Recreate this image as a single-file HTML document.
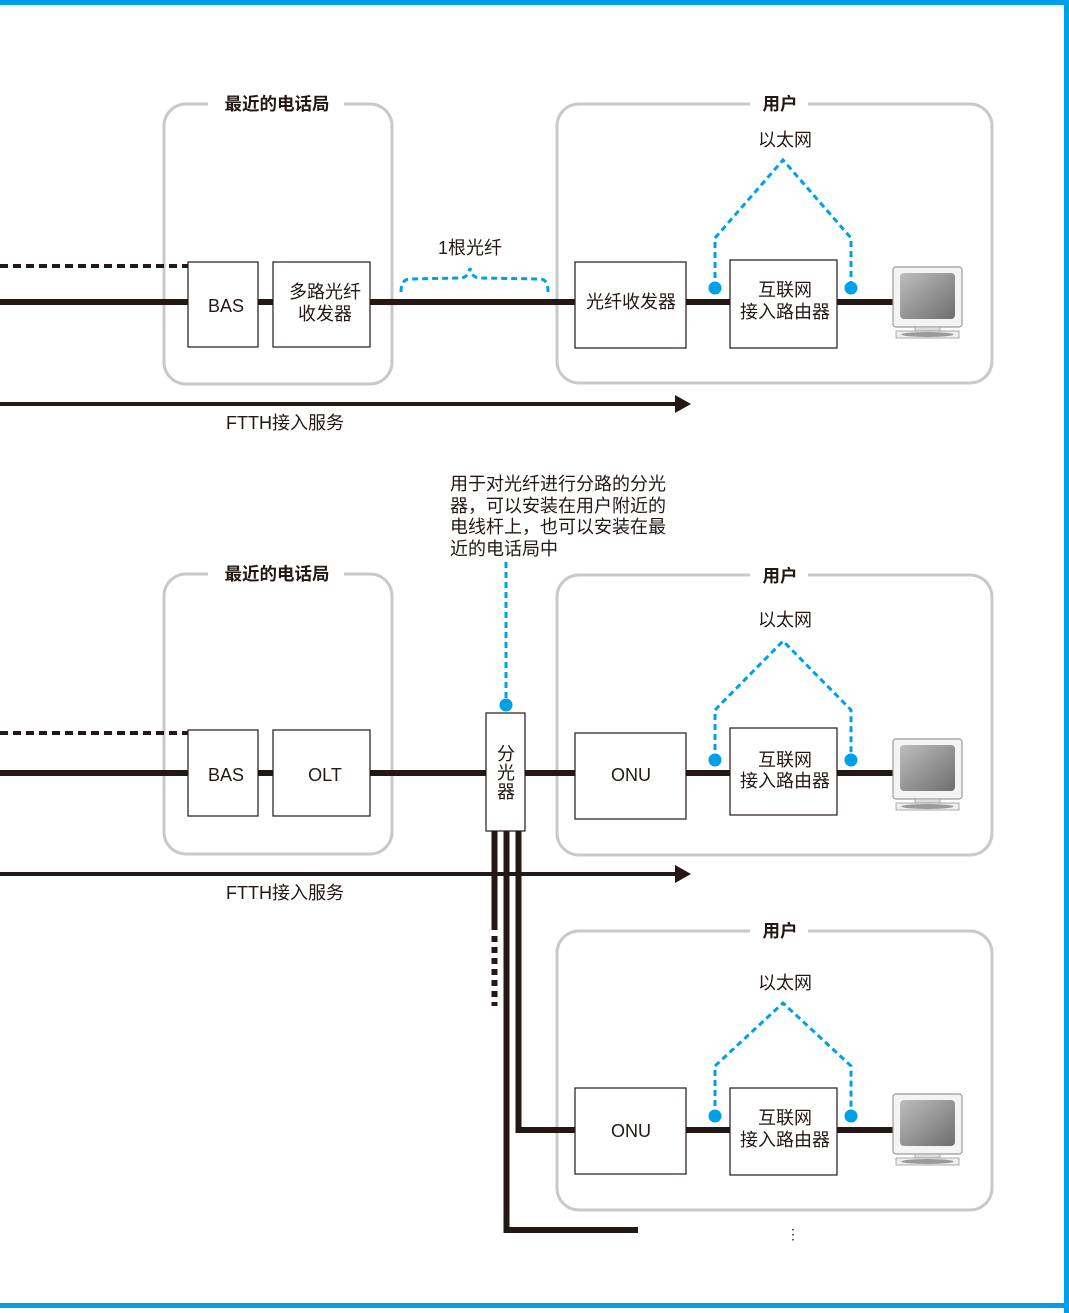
<!DOCTYPE html>
<html><head><meta charset="utf-8"><style>
html,body{margin:0;padding:0;background:#fff}
svg{display:block}
text{font-family:"Liberation Sans","Noto Sans CJK SC",sans-serif;fill:#231815}
</style></head><body>
<svg width="1069" height="1313" viewBox="0 0 1069 1313" xmlns="http://www.w3.org/2000/svg">
<defs>
<linearGradient id="scr" x1="0" y1="0" x2="1" y2="1"><stop offset="0" stop-color="#bdbdbd"/><stop offset="1" stop-color="#6e6e6e"/></linearGradient>
<g id="mon">
<rect x="0" y="0" width="69" height="60" rx="3" fill="#f4f4f4" stroke="#9a9a9a" stroke-width="1.2"/>
<rect x="7" y="6" width="55" height="46" rx="4" fill="url(#scr)"/>
<rect x="22" y="60" width="25" height="4" fill="#ddd" stroke="#999" stroke-width="0.8"/>
<rect x="3" y="64" width="63" height="7" fill="#eee" stroke="#999" stroke-width="0.8"/>
<ellipse cx="34.5" cy="67.5" rx="26" ry="2.5" fill="#9a9a9a"/>
</g>
</defs>
<rect x="0" y="0" width="1069" height="5" fill="#00a0e9"/>
<rect x="1064" y="0" width="5" height="1313" fill="#00a0e9"/>
<rect x="0" y="1303" width="1069" height="5" fill="#00a0e9"/>

<g fill="none" stroke="#c9c9c9" stroke-width="3">
<rect x="164" y="104" width="228" height="280" rx="22"/>
<rect x="557" y="104" width="435" height="279" rx="22"/>
<rect x="164" y="574" width="228" height="280" rx="22"/>
<rect x="557" y="575" width="435" height="280" rx="22"/>
<rect x="557" y="931" width="435" height="279" rx="22"/>
</g>
<g fill="#fff">
<rect x="208" y="94" width="136" height="20"/>
<rect x="750" y="94" width="58" height="20"/>
<rect x="208" y="564" width="136" height="20"/>
<rect x="750" y="565" width="58" height="20"/>
<rect x="750" y="921" width="58" height="20"/>
</g>
<g font-size="17.5" font-weight="bold" text-anchor="middle">
<text x="277" y="110">最近的电话局</text>
<text x="780" y="110">用户</text>
<text x="277" y="580">最近的电话局</text>
<text x="780" y="582">用户</text>
<text x="780" y="937">用户</text>
</g>

<line x1="0" y1="266" x2="188" y2="266" stroke="#231815" stroke-width="4" stroke-dasharray="8,5"/>
<line x1="0" y1="302" x2="893" y2="302" stroke="#231815" stroke-width="6"/>
<line x1="0" y1="404" x2="678" y2="404" stroke="#231815" stroke-width="4"/>
<polygon points="675,395 691,404 675,413" fill="#231815"/>
<path d="M401,292 Q401,279 410,279 L460,278 Q468,278 470,268 Q472,278 480,278 L540,279 Q548,279 548,292" fill="none" stroke="#00a0e9" stroke-width="3" stroke-dasharray="6,4"/>

<g fill="#fff" stroke="#231815" stroke-width="1.2">
<rect x="188" y="262" width="70" height="85"/>
<rect x="273" y="262" width="97" height="85"/>
<rect x="575" y="262" width="111" height="86"/>
<rect x="730" y="260" width="107" height="88"/>
</g>
<g fill="none" stroke="#00a0e9" stroke-width="3" stroke-dasharray="6,4">
<path d="M715,288 V238 L783,160 L851,238 V288"/>
<path d="M715,760 V710 L783,641 L851,710 V760"/>
<path d="M715,1116 V1066 L783,1003 L851,1066 V1116"/>
</g>
<g fill="#00a0e9">
<circle cx="715" cy="288" r="6.5"/><circle cx="851" cy="288" r="6.5"/>
<circle cx="715" cy="760" r="6.5"/><circle cx="851" cy="760" r="6.5"/>
<circle cx="715" cy="1116" r="6.5"/><circle cx="851" cy="1116" r="6.5"/>
</g>
<use href="#mon" x="893" y="267"/>

<g font-size="18" text-anchor="middle">
<text x="226" y="312">BAS</text>
<text x="325" y="298">多路光纤</text>
<text x="325" y="320">收发器</text>
<text x="631" y="308">光纤收发器</text>
<text x="785" y="296">互联网</text>
<text x="785" y="318">接入路由器</text>
<text x="785" y="146">以太网</text>
<text x="470" y="254">1根光纤</text>
<text x="285" y="429">FTTH接入服务</text>
</g>

<line x1="0" y1="733" x2="188" y2="733" stroke="#231815" stroke-width="4" stroke-dasharray="8,5"/>
<line x1="0" y1="773" x2="893" y2="773" stroke="#231815" stroke-width="6"/>
<line x1="0" y1="874" x2="678" y2="874" stroke="#231815" stroke-width="4"/>
<polygon points="675,865 691,874 675,883" fill="#231815"/>
<line x1="506" y1="562" x2="506" y2="700" stroke="#00a0e9" stroke-width="3" stroke-dasharray="6,4"/>
<circle cx="506" cy="705" r="6.5" fill="#00a0e9"/>

<line x1="494.5" y1="830" x2="494.5" y2="930" stroke="#231815" stroke-width="6"/>
<line x1="494.5" y1="936" x2="494.5" y2="1006" stroke="#231815" stroke-width="6" stroke-dasharray="6,5"/>
<path d="M506.5,830 V1230 H638" fill="none" stroke="#231815" stroke-width="6"/>
<path d="M518.5,830 V1130 H893" fill="none" stroke="#231815" stroke-width="6"/>

<g fill="#fff" stroke="#231815" stroke-width="1.2">
<rect x="188" y="730" width="70" height="86"/>
<rect x="273" y="730" width="97" height="86"/>
<rect x="486" y="713" width="39" height="118"/>
<rect x="575" y="733" width="111" height="86"/>
<rect x="730" y="728" width="107" height="87"/>
<rect x="575" y="1088" width="111" height="86"/>
<rect x="730" y="1088" width="107" height="87"/>
</g>
<use href="#mon" x="893" y="739"/>
<use href="#mon" x="893" y="1094"/>

<g font-size="18" text-anchor="middle">
<text x="226" y="781">BAS</text>
<text x="325" y="781">OLT</text>
<text x="506" y="760">分</text>
<text x="506" y="779">光</text>
<text x="506" y="798">器</text>
<text x="631" y="781">ONU</text>
<text x="785" y="766">互联网</text>
<text x="785" y="787">接入路由器</text>
<text x="785" y="626">以太网</text>
<text x="285" y="899">FTTH接入服务</text>
<text x="631" y="1137">ONU</text>
<text x="785" y="1124">互联网</text>
<text x="785" y="1146">接入路由器</text>
<text x="785" y="989">以太网</text>
<text x="793" y="1239" font-size="14">⋮</text>
</g>
<g font-size="18">
<text x="450" y="490">用于对光纤进行分路的分光</text>
<text x="450" y="512">器，可以安装在用户附近的</text>
<text x="450" y="533">电线杆上，也可以安装在最</text>
<text x="450" y="555">近的电话局中</text>
</g>
</svg>
</body></html>
